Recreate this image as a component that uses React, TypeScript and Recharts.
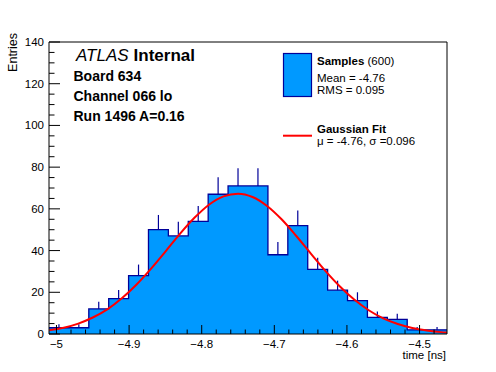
import { ComposedChart, Area, Line, Scatter, ErrorBar, XAxis, YAxis, ReferenceLine } from 'recharts'

// histogram: 20 bins over the frame range, counts
const binEdges = [
  -5.0103, -4.9829, -4.9555, -4.9281, -4.9007, -4.8733, -4.8459, -4.8185, -4.7911, -4.7637, -4.7363,
  -4.7088, -4.6814, -4.654, -4.6266, -4.5992, -4.5718, -4.5444, -4.517, -4.4896, -4.4622,
]
const binCounts = [3, 3, 12, 17, 28, 50, 47, 54, 67, 71, 71, 38, 52, 31, 21, 16, 8, 7, 2, 2]
// upper error bar lengths (sqrt N)
const binErrors = [1.73, 1.73, 3.46, 4.12, 5.29, 7.07, 6.86, 7.35, 8.19, 8.43, 8.43, 6.16, 7.21, 5.57, 4.58, 4.0, 2.83, 2.65, 1.41, 1.41]

// gaussian fit curve
const fitX = [
  -5.01, -4.99, -4.97, -4.95, -4.93, -4.91, -4.89, -4.87, -4.85, -4.83, -4.81, -4.79, -4.77, -4.75,
  -4.73, -4.71, -4.69, -4.67, -4.65, -4.63, -4.61, -4.59, -4.57, -4.55, -4.53, -4.51, -4.49, -4.47, -4.4622,
]
const fitY = [
  1.8, 3.0, 5.0, 7.9, 11.8, 17.1, 23.6, 31.2, 39.5, 48.0, 55.7, 62.0, 66.0, 67.3,
  65.7, 61.4, 55.0, 47.1, 38.7, 30.4, 22.9, 16.5, 11.4, 7.5, 4.8, 2.9, 1.7, 0.9, 0.7,
]

const xMajor = [-5, -4.9, -4.8, -4.7, -4.6, -4.5]
const xMajorLabels = ['\u22125', '\u22124.9', '\u22124.8', '\u22124.7', '\u22124.6', '\u22124.5']
const xMinor = [
  -5, -4.98, -4.96, -4.94, -4.92, -4.9, -4.88, -4.86, -4.84, -4.82, -4.8, -4.78, -4.76, -4.74,
  -4.72, -4.7, -4.68, -4.66, -4.64, -4.62, -4.6, -4.58, -4.56, -4.54, -4.52, -4.5, -4.48,
]
const yMajor = [0, 20, 40, 60, 80, 100, 120, 140]
const yMinor = Array.from({ length: 29 }, (_, i) => i * 5)

const X_DOMAIN: [number, number] = [-5.0103, -4.4622]
const FONT = '"Liberation Sans", Arial, Helvetica, sans-serif'
const FILL = '#0099ff'
const EDGE = '#000099'

const histData = binEdges.map((x, i) => ({ x, n: binCounts[Math.min(i, binCounts.length - 1)] }))
const errData = binCounts.map((n, i) => ({
  x: (binEdges[i] + binEdges[i + 1]) / 2,
  n,
  err: [0, binErrors[i]],
}))
const fitData = fitX.map((x, i) => ({ x, y: fitY[i] }))

function XTick({ x, y, payload }: any) {
  const i = xMajor.findIndex((m) => Math.abs(m - payload.value) < 1e-6)
  const major = i >= 0
  return (
    <g>
      <line x1={x} y1={y} x2={x} y2={y - (major ? 9 : 4.5)} stroke="#000" />
      {major && (
        <text x={x} y={y + 14} textAnchor="middle" fontSize={11.5} fontFamily={FONT} fill="#000">
          {xMajorLabels[i]}
        </text>
      )}
    </g>
  )
}

function YTick({ x, y, payload }: any) {
  const major = yMajor.includes(payload.value)
  return (
    <g>
      <line x1={x} y1={y} x2={x + (major ? 11 : 5.5)} y2={y} stroke="#000" />
      {major && (
        <text x={x - 5} y={y + 4} textAnchor="end" fontSize={11.5} fontFamily={FONT} fill="#000">
          {payload.value}
        </text>
      )}
    </g>
  )
}

export default function App() {
  return (
    <div style={{ position: 'relative', width: 496, height: 372, background: '#fff' }}>
      <style>{'body{margin:0}'}</style>
      <ComposedChart width={496} height={372} margin={{ top: 42, right: 49, bottom: 8, left: 9 }}>
        <Area
          data={histData}
          dataKey="n"
          type="stepAfter"
          fill={FILL}
          fillOpacity={1}
          stroke={EDGE}
          strokeWidth={1.3}
          baseValue={0}
          isAnimationActive={false}
        />
        <Scatter data={errData} dataKey="n" shape={() => <g />} isAnimationActive={false}>
          <ErrorBar dataKey="err" direction="y" width={0} stroke={EDGE} strokeWidth={1.2} />
        </Scatter>
        <Line
          data={fitData}
          dataKey="y"
          type="monotone"
          stroke="#ff0000"
          strokeWidth={2}
          dot={false}
          isAnimationActive={false}
        />
        <ReferenceLine y={140} stroke="#000" />
        <ReferenceLine x={X_DOMAIN[1]} stroke="#000" />
        <XAxis
          dataKey="x"
          type="number"
          domain={X_DOMAIN}
          allowDataOverflow
          ticks={xMinor}
          interval={0}
          tick={<XTick />}
          tickLine={false}
          tickSize={0}
          tickMargin={0}
          axisLine={{ stroke: '#000' }}
          height={30}
        />
        <YAxis
          type="number"
          domain={[0, 140]}
          allowDataOverflow
          ticks={yMinor}
          interval={0}
          tick={<YTick />}
          tickLine={false}
          tickSize={0}
          tickMargin={0}
          axisLine={{ stroke: '#000' }}
          width={40}
        />
      </ComposedChart>

      <svg width={496} height={372} style={{ position: 'absolute', left: 0, top: 0, pointerEvents: 'none' }} fontFamily={FONT}>
        <text transform="translate(16.5,33) rotate(-90)" textAnchor="end" fontSize={12.5}>Entries</text>
        <text x={446} y={359} textAnchor="end" fontSize={11.5}>time [ns]</text>

        <text x={76} y={61} fontSize={17}>
          <tspan fontStyle="italic">ATLAS</tspan>
          <tspan fontWeight="bold" dx={5}>Internal</tspan>
        </text>
        <text x={73.5} y={81.3} fontSize={14} fontWeight="bold">Board 634</text>
        <text x={73.5} y={101.3} fontSize={14} fontWeight="bold">Channel 066 lo</text>
        <text x={73.5} y={121.3} fontSize={14} fontWeight="bold">Run 1496 A=0.16</text>

        <rect x={283.5} y={53.5} width={28} height={43} fill={FILL} stroke={EDGE} strokeWidth={1.2} />
        <text x={317} y={65} fontSize={11.5}>
          <tspan fontWeight="bold">Samples</tspan>
          <tspan> (600)</tspan>
        </text>
        <text x={317} y={81.5} fontSize={11.5}>Mean = -4.76</text>
        <text x={317} y={93.5} fontSize={11.5}>RMS = 0.095</text>

        <line x1={283} y1={135.7} x2={312} y2={135.7} stroke="#ff0000" strokeWidth={2} />
        <text x={317} y={133.3} fontSize={11.5} fontWeight="bold">Gaussian Fit</text>
        <text x={317} y={145.3} fontSize={11.5}>{'\u03bc = -4.76, \u03c3 =0.096'}</text>
      </svg>
    </div>
  )
}
